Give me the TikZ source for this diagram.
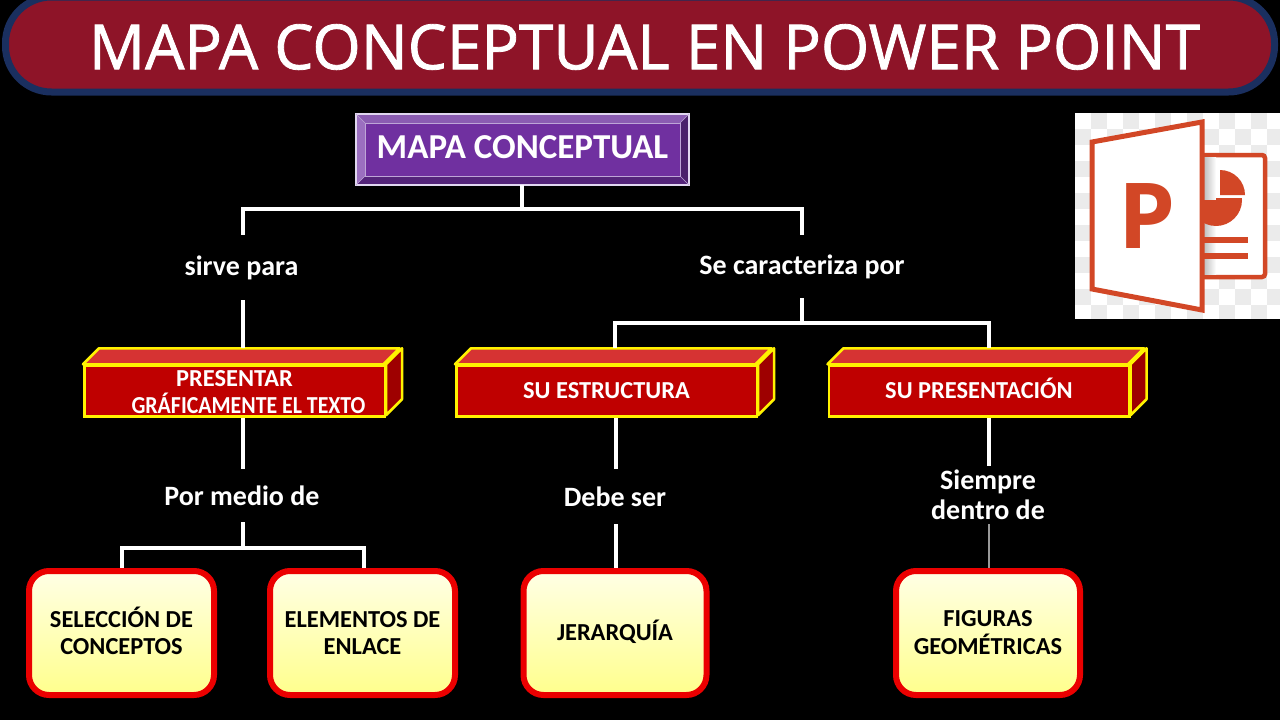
\documentclass[tikz,border=0pt]{standalone}
\usepackage{fontspec}
\usepackage{graphicx}
\setmainfont{Carlito}
\newfontfamily\titlefont[FakeBold=1.3]{Open Sans}
\newfontfamily\iconfont{Open Sans}
\definecolor{barred}{HTML}{8E1428}
\definecolor{barnavy}{HTML}{1A2F5F}
\definecolor{ppt}{HTML}{D24726}
\definecolor{chk}{HTML}{EBEBEB}
\tikzset{
  x=1pt,y=-1pt,
  conn/.style={draw=white,line width=4pt},
  thinconn/.style={draw=white!60!black,line width=1.5pt},
  lbl/.style={text=white,font=\fontsize{28}{30}\selectfont\bfseries,align=center,inner sep=0pt,minimum width=10pt},
  front/.style={draw=yellow,line width=2.5pt,fill=red!75!black,text=white,inner sep=0pt,align=center,
    font=\fontsize{24.4}{27}\selectfont\bfseries,minimum height=51pt},
  boxtop/.style={draw=yellow,line width=2.5pt,line join=round,fill=red!80!black!80!white},
  boxside/.style={draw=yellow,line width=2.5pt,line join=round,fill=red!62!black},
  leaf/.style={draw=red!92!black,line width=6pt,rounded corners=20pt,top color=yellow!10,bottom color=yellow!45,
    text=black,align=center,inner sep=0pt,font=\fontsize{24.4}{27}\selectfont\bfseries,minimum height=124pt},
}
\newcommand{\threedbox}[4]{%
  \node[front,minimum width=#3 pt] (#1) at (#2,391) {#4};
  \path[boxtop] (#1.north west) -- ++(16,-16) -- ++(#3,0) -- ++(-16,16) -- cycle;
  \path[boxside] (#1.north east) -- ++(16,-16) -- ++(0,51) -- ++(-16,16) -- cycle;
}
\newcommand{\oneline}[2][-7pt]{\smash{\raisebox{#1}{#2}}}
\newcommand{\twolines}[2]{\smash{\raisebox{-8.5pt}{\begin{tabular}{@{}c@{}}#1\\#2\end{tabular}}}}
\begin{document}
\begin{tikzpicture}
\clip (0,0) rectangle (1280,720);
\fill[black] (0,0) rectangle (1280,720);
% title
\node[draw=barnavy,fill=barred,line width=7pt,rounded corners=46pt,minimum width=1269pt,minimum height=95pt,inner sep=0pt] (bar) at (640,44.5) {};
\node[text=white,inner sep=0pt,font=\titlefont\fontsize{62.2}{62}\selectfont] (title) at (644.5,47) {MAPA CONCEPTUAL EN POWER POINT};
% root
\coordinate (ra) at (356,114);\coordinate (rb) at (689,114);\coordinate (rc) at (689,185);\coordinate (rd) at (356,185);
\coordinate (ia) at (365,123);\coordinate (ib) at (680,123);\coordinate (ic) at (680,176);\coordinate (id) at (365,176);
\fill[color={rgb,255:red,139;green,92;blue,178}] (ra)--(rb)--(ib)--(ia)--cycle;
\fill[color={rgb,255:red,74;green,32;blue,107}] (rb)--(rc)--(ic)--(ib)--cycle;
\fill[color={rgb,255:red,84;green,36;blue,122}] (rc)--(rd)--(id)--(ic)--cycle;
\fill[color={rgb,255:red,155;green,111;blue,192}] (rd)--(ra)--(ia)--(id)--cycle;
\node[fill={rgb,255:red,112;green,48;blue,160},text=white,inner sep=0pt,minimum width=315pt,minimum height=53pt,font=\fontsize{35}{36}\selectfont\bfseries] (root) at (522.5,149.5) {\oneline[-8.5pt]{MAPA CONCEPTUAL}};
\draw[color={rgb,255:red,190;green,165;blue,215},line width=.8pt] (ia)--(ib)--(ic)--(id)--cycle;
\draw[color={rgb,255:red,225;green,215;blue,240},line width=1.5pt] (ra)--(rb)--(rc)--(rd)--cycle;
\foreach \p/\q in {ra/ia,rb/ib,rc/ic,rd/id} \draw[color={rgb,255:red,190;green,165;blue,215},line width=.6pt] (\p)--(\q);
\coordinate (rootfoot) at (522,185);
\coordinate (busA) at (522,209);
% labels
\node[lbl,minimum height=65pt] (sirve) at (243,267.5) {\hspace*{-3pt}sirve para};
\node[lbl,minimum height=63pt] (carac) at (802,266.5) {Se caracteriza por};
\node[lbl,minimum height=53pt] (medio) at (243,495.5) {\hspace*{-2pt}Por medio de};
\node[lbl,minimum height=55pt] (debe) at (616,496.5) {\hspace*{-2pt}Debe ser};
\node[lbl,minimum height=58pt] (siempre) at (988,495) {Siempre\\dentro de};
% 3d boxes
\threedbox{pres}{234.5}{300.5}{\rule{0pt}{18.7pt}PRESENTAR\\\hspace*{28pt}\scalebox{.895}[1]{GRÁFICAMENTE EL TEXTO}}
\threedbox{estr}{606.5}{300.5}{\oneline{SU ESTRUCTURA}}
\threedbox{pren}{979}{300.5}{\oneline{SU PRESENTACIÓN}}
% leaves
\node[leaf,minimum width=185pt] (sel) at (121.5,633) {\twolines{SELECCIÓN DE}{CONCEPTOS}};
\node[leaf,minimum width=185pt] (ele) at (362.5,633) {\twolines{ELEMENTOS DE}{ENLACE}};
\node[leaf,minimum width=183pt] (jer) at (615,633) {\oneline{JERARQUÍA}};
\node[leaf,minimum width=184pt] (fig) at (988,633) {\twolines{FIGURAS}{GEOMÉTRICAS}};
% connectors
\coordinate (busB) at (802,323);
\coordinate (busC) at (243,548);
\coordinate (presTop) at (243,348);
\coordinate (presFoot) at (243,418);
\coordinate (estrTop) at (615,348);
\coordinate (estrFoot) at (616,418);
\coordinate (prenTop) at (989,348);
\coordinate (prenFoot) at (989,418);
\coordinate (selTop) at (122,568);
\coordinate (eleTop) at (364,568);
\draw[conn] (rootfoot) -- (busA);
\draw[conn] (sirve.north) |- (busA) -| (carac.north);
\draw[conn] (sirve.south) -- (presTop);
\draw[conn] (carac.south) -- (busB);
\draw[conn] (estrTop) |- (busB) -| (prenTop);
\draw[conn] (presFoot) -- (medio.north);
\draw[conn] (medio.south) -- (busC);
\draw[conn] (selTop) |- (busC) -| (eleTop);
\draw[conn] (estrFoot) -- (debe.north);
\draw[conn] (debe.south) -- (debe.south |- jer.north);
\draw[conn] (prenFoot) -- (siempre.north -| prenFoot);
\draw[thinconn] (siempre.south -| prenFoot) -- (fig.north -| prenFoot);
% icon
\fill[white] (1075,113) rectangle (1280,319);
\foreach \i in {0,...,12} \foreach \j in {0,...,12} {
  \pgfmathparse{int(mod(\i+\j,2))}
  \ifnum\pgfmathresult=1
    \fill[chk] ({1075+\i*16},{113+\j*16}) rectangle ({min(1280,1075+(\i+1)*16)},{min(319,113+(\j+1)*16)});
  \fi}
\draw[ppt,line width=4.5pt,fill=white,rounded corners=3pt] (1190,155) rectangle (1265,277);
\fill[left color=black!25,right color=white] (1204,157.5) rectangle (1216,274.5);
\fill[ppt] (1216,200) -- (1216,174) arc[start angle=90,end angle=-180,radius=26pt] -- cycle;
\fill[white] (1216,172) rectangle (1246,198);
\fill[ppt] (1220,195) -- (1220,170) arc[start angle=90,end angle=0,radius=25pt] -- cycle;
\fill[ppt] (1190,237) rectangle (1248,243);
\fill[ppt] (1190,253) rectangle (1248,259);
\draw[ppt,line width=5pt,fill=white,line join=miter] (1092,142) -- (1202,122) -- (1202,310) -- (1092,289) -- cycle;
\node[text=ppt,inner sep=0pt,font=\iconfont\bfseries\fontsize{91}{91}\selectfont] (pee) at (1147,216) {P};
\end{tikzpicture}
\end{document}
